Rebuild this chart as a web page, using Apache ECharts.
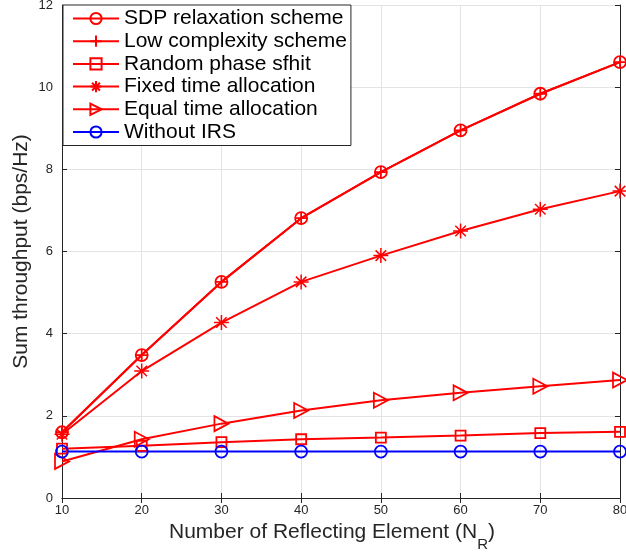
<!DOCTYPE html>
<html>
<head>
<meta charset="utf-8">
<script src="https://cdn.jsdelivr.net/npm/echarts@6/dist/echarts.min.js"></script>
<style>
  html, body { margin: 0; padding: 0; background: #fff; }
  #chart { width: 626px; height: 554px; }
</style>
</head>
<body>
<div id="chart"></div>
<script>
const elements = [10, 20, 30, 40, 50, 60, 70, 80];
const sdpRelaxation = [1.60, 3.48, 5.26, 6.81, 7.93, 8.95, 9.84, 10.61];
const lowComplexity = [1.60, 3.48, 5.26, 6.81, 7.93, 8.95, 9.84, 10.61];
const randomPhase = [1.20, 1.27, 1.36, 1.43, 1.47, 1.52, 1.58, 1.61];
const fixedTime = [1.55, 3.09, 4.27, 5.26, 5.90, 6.50, 7.03, 7.47];
const equalTime = [0.89, 1.43, 1.81, 2.13, 2.38, 2.56, 2.72, 2.87];
const withoutIRS = [1.13, 1.13, 1.13, 1.13, 1.13, 1.13, 1.13, 1.13];

const RED = "#ff0000";
const BLUE = "#0000ff";
const AXIS = "#262626";
const FONT = "Liberation Sans, Arial, Helvetica, sans-serif";

const marks = {
  circle: "path://M10,5A5,5 0 1 1 0,5A5,5 0 1 1 10,5Z",
  plus: "path://M0,5L10,5M5,0L5,10",
  square: "path://M0,0L10,0L10,10L0,10Z",
  star: "path://M5,0L5,10M0,5L10,5M1.5,1.5L8.5,8.5M8.5,1.5L1.5,8.5",
  tri: "path://M0,0L10,5L0,10Z"
};

function pairs(vals) {
  return elements.map((x, i) => [x, vals[i]]);
}

function makeSeries(name, vals, color, symbol, size, bw) {
  return {
    name: name,
    type: "line",
    data: pairs(vals),
    symbol: symbol,
    symbolSize: size,
    showAllSymbol: true,
    lineStyle: { color: color, width: 2 },
    itemStyle: { color: "transparent", borderColor: color, borderWidth: bw || 1.8 },
    emphasis: { disabled: true }
  };
}

const chart = echarts.init(document.getElementById("chart"));

const option = {
  animation: false,
  textStyle: { fontFamily: FONT },
  grid: { left: 62, right: 6, top: 5, bottom: 56, outerBoundsMode: "none", containLabel: false },
  legend: {
    left: 63,
    top: 5,
    orient: "vertical",
    padding: [3, 4, 3, 9],
    itemWidth: 46,
    itemHeight: 14,
    itemGap: 1.7,
    backgroundColor: "#fff",
    borderColor: AXIS,
    borderWidth: 1,
    textStyle: { fontSize: 21, lineHeight: 20, color: "#000", fontFamily: FONT },
    data: [
      "SDP relaxation scheme",
      "Low complexity scheme",
      "Random phase sfhit",
      "Fixed time allocation",
      "Equal time allocation",
      "Without IRS"
    ]
  },
  xAxis: [
    {
      type: "value",
      min: 10,
      max: 80,
      interval: 10,
      name: "{a|Number of Reflecting Element (N}{s|R}{a|)}",
      nameLocation: "middle",
      nameGap: 22,
      nameTextStyle: {
        padding: [0, 18, 0, 0],
        rich: {
          a: { fontSize: 21, lineHeight: 20, verticalAlign: "top", color: AXIS, fontFamily: FONT },
          s: { fontSize: 15, lineHeight: 15, padding: [15, 0, 0, 0], verticalAlign: "top", color: AXIS, fontFamily: FONT }
        }
      },
      axisLine: { lineStyle: { color: AXIS, width: 1 } },
      axisTick: { inside: true, length: 5, lineStyle: { color: AXIS } },
      axisLabel: { fontSize: 13, color: AXIS, margin: 6 },
      splitLine: { show: true, lineStyle: { color: "#e3e3e3", width: 1 } }
    },
    {
      type: "value",
      position: "top",
      min: 10,
      max: 80,
      interval: 10,
      axisLine: { show: true, lineStyle: { color: AXIS, width: 1 } },
      axisTick: { show: true, inside: true, length: 5, lineStyle: { color: AXIS } },
      axisLabel: { show: false },
      splitLine: { show: false }
    }
  ],
  yAxis: [
    {
      type: "value",
      min: 0,
      max: 12,
      interval: 2,
      name: "Sum throughput (bps/Hz)",
      nameLocation: "middle",
      nameGap: 30,
      nameMoveOverlap: false,
      nameTextStyle: { fontSize: 21, color: AXIS },
      axisLine: { show: true, lineStyle: { color: AXIS, width: 1 } },
      axisTick: { show: true, inside: true, length: 5, lineStyle: { color: AXIS } },
      axisLabel: { fontSize: 13, color: AXIS, margin: 9 },
      splitLine: { show: true, lineStyle: { color: "#e3e3e3", width: 1 } }
    },
    {
      type: "value",
      position: "right",
      min: 0,
      max: 12,
      interval: 2,
      axisLine: { show: true, lineStyle: { color: AXIS, width: 1 } },
      axisTick: { show: true, inside: true, length: 5, lineStyle: { color: AXIS } },
      axisLabel: { show: false },
      splitLine: { show: false }
    }
  ],
  series: [
    makeSeries("SDP relaxation scheme", sdpRelaxation, RED, marks.circle, 12),
    makeSeries("Low complexity scheme", lowComplexity, RED, marks.plus, 12),
    makeSeries("Random phase sfhit", randomPhase, RED, marks.square, 10),
    makeSeries("Fixed time allocation", fixedTime, RED, marks.star, 15, 1.5),
    makeSeries("Equal time allocation", equalTime, RED, marks.tri, [14, 15]),
    makeSeries("Without IRS", withoutIRS, BLUE, marks.circle, 12)
  ]
};

chart.setOption(option);
</script>
</body>
</html>
